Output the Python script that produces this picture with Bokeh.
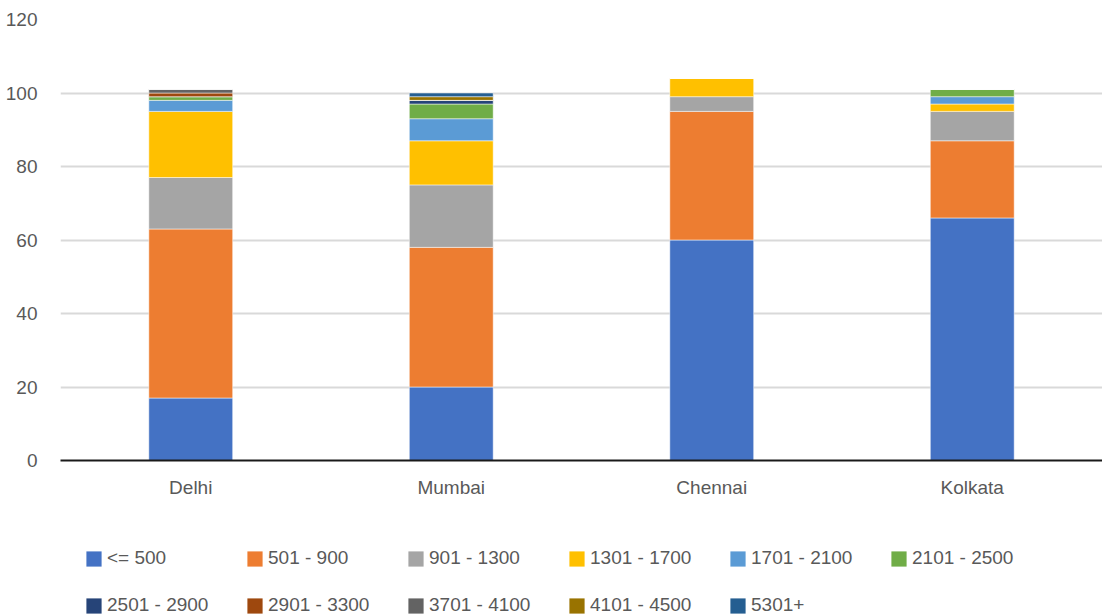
from bokeh.plotting import figure
from bokeh.layouts import column
from bokeh.models import ColumnDataSource, Range1d, FactorRange, Legend, LegendItem, FixedTicker
from bokeh.embed import file_html
from bokeh.resources import INLINE

cities = ["Delhi", "Mumbai", "Chennai", "Kolkata"]
bands = ["<= 500", "501 - 900", "901 - 1300", "1301 - 1700", "1701 - 2100", "2101 - 2500",
         "2501 - 2900", "2901 - 3300", "3701 - 4100", "4101 - 4500", "5301+"]
le500 = [17, 20, 60, 66]
r501_900 = [46, 38, 35, 21]
r901_1300 = [14, 17, 4, 8]
r1301_1700 = [18, 12, 5, 2]
r1701_2100 = [3, 6, 0, 2]
r2101_2500 = [1, 4, 0, 2]
r2501_2900 = [0, 1, 0, 0]
r2901_3300 = [1, 0, 0, 0]
r3701_4100 = [1, 0, 0, 0]
r4101_4500 = [0, 1, 0, 0]
r5301_plus = [0, 1, 0, 0]
colors = ["#4472C4", "#ED7D31", "#A5A5A5", "#FFC000", "#5B9BD5", "#70AD47",
          "#264478", "#9E480E", "#636363", "#997300", "#255E91"]
yticks = [0, 20, 40, 60, 80, 100, 120]

series = [le500, r501_900, r901_1300, r1301_1700, r1701_2100, r2101_2500,
          r2501_2900, r2901_3300, r3701_4100, r4101_4500, r5301_plus]
keys = ["s%d" % i for i in range(len(series))]
data = {"city": cities}
for k, s in zip(keys, series):
    data[k] = s
source = ColumnDataSource(data)

FONT = "Liberation Sans"
FS = "19px"
GREY = "#595959"

p = figure(x_range=FactorRange(*cities, range_padding=0), y_range=Range1d(0, 120),
           width=1102, height=500, output_backend="svg", toolbar_location=None,
           min_border_left=60, min_border_right=0, min_border_top=19, min_border_bottom=40)

p.vbar_stack(keys, x="city", width=0.322, source=source, color=colors,
             line_color="white", line_width=0.5)

p.outline_line_color = None
p.xgrid.grid_line_color = None
p.ygrid.grid_line_color = "#d9d9d9"
p.ygrid.grid_line_width = 2
p.yaxis.ticker = FixedTicker(ticks=yticks)
p.yaxis.axis_line_color = None
p.yaxis.major_tick_line_color = None
p.yaxis.minor_tick_line_color = None
p.yaxis.major_label_standoff = 17
p.xaxis.axis_line_color = "#1a1a1a"
p.xaxis.axis_line_width = 2
p.xaxis.major_tick_line_color = None
p.xaxis.minor_tick_line_color = None
p.xaxis.major_label_standoff = 10
for ax in (p.xaxis, p.yaxis):
    ax.major_label_text_font = FONT
    ax.major_label_text_font_size = FS
    ax.major_label_text_color = GREY

# legend strip (its own invisible copies of the stacks provide the swatches)
lp = figure(width=1102, height=115, output_backend="svg", toolbar_location=None,
            x_range=FactorRange(*cities), y_range=Range1d(0, 1),
            min_border_left=0, min_border_right=0, min_border_top=0, min_border_bottom=0)
lp.axis.visible = False
lp.grid.visible = False
lp.outline_line_color = None
swatches = lp.vbar_stack(keys, x="city", width=0.322, source=source, color=colors,
                         line_color=None)
for r in swatches:
    r.visible = False

def make_legend(idx, vy):
    items = [LegendItem(label=bands[i], renderers=[swatches[i]]) for i in idx]
    return Legend(items=items, orientation="horizontal", location=(24, vy),
                  padding=0, margin=0, spacing=5, glyph_width=19, glyph_height=19,
                  label_standoff=4, label_width=133, label_height=19,
                  label_text_font=FONT, label_text_font_size=FS,
                  label_text_color=GREY, border_line_color=None,
                  background_fill_alpha=0, inactive_fill_alpha=0)

lp.add_layout(make_legend(range(0, 6), 46))
lp.add_layout(make_legend(range(6, 11), -1))

open("out.html", "w").write(file_html(column(p, lp), INLINE))
